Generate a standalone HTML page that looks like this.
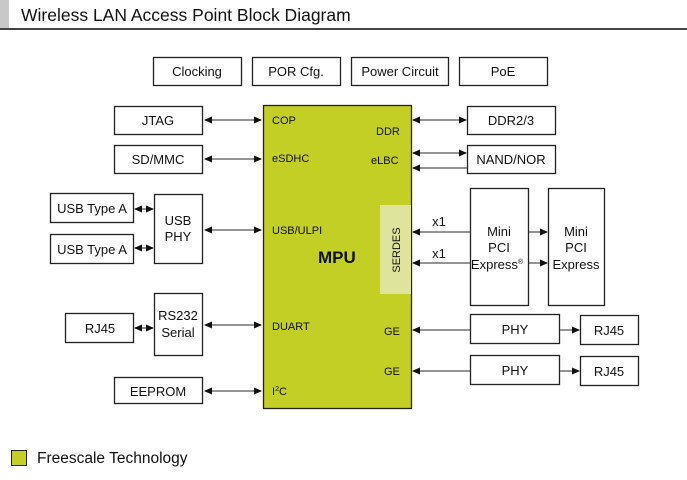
<!DOCTYPE html>
<html><head><meta charset="utf-8"><style>
body{margin:0;background:#fff;}
svg{display:block;font-family:"Liberation Sans",sans-serif;}
</style></head><body>
<svg width="687" height="480" viewBox="0 0 687 480" xmlns="http://www.w3.org/2000/svg">
<defs>
<marker id="a" markerWidth="8" markerHeight="8" refX="7" refY="4" orient="auto-start-reverse" markerUnits="userSpaceOnUse"><path d="M0,0.5 L8,4 L0,7.5z" fill="#111"/></marker>
</defs>
<rect x="0" y="0" width="9" height="30" fill="#c8c8c8"/>
<text x="21" y="21" font-size="17.5" fill="#111">Wireless LAN Access Point Block Diagram</text>
<rect x="0" y="28" width="687" height="2" fill="#444"/>
<g fill="#fff" stroke="#222" stroke-width="1.3">
<rect x="153.5" y="57.5" width="88" height="28"/>
<rect x="252.5" y="57.5" width="88" height="28"/>
<rect x="351.5" y="57.5" width="97" height="28"/>
<rect x="459.5" y="57.5" width="88" height="28"/>
<rect x="114.5" y="106.5" width="88" height="28"/>
<rect x="114.5" y="145.5" width="88" height="28"/>
<rect x="50.5" y="193.5" width="83" height="29"/>
<rect x="50.5" y="234.5" width="83" height="29"/>
<rect x="154.5" y="194.5" width="48" height="69"/>
<rect x="65.5" y="313.5" width="68" height="29"/>
<rect x="154.5" y="293.5" width="48" height="62"/>
<rect x="114.5" y="377.5" width="88" height="26"/>
<rect x="467.5" y="106.5" width="88" height="28"/>
<rect x="467.5" y="145.5" width="88" height="28"/>
<rect x="470.5" y="188.5" width="58" height="117"/>
<rect x="548.5" y="188.5" width="56" height="117"/>
<rect x="470.5" y="314.5" width="89" height="29"/>
<rect x="470.5" y="355.5" width="89" height="29"/>
<rect x="580.5" y="315.5" width="58" height="29"/>
<rect x="580.5" y="356.5" width="58" height="29"/>
<rect x="263.5" y="105.5" width="148" height="303" fill="#c3cf25"/>
</g>
<rect x="380" y="205" width="31" height="89" fill="#dfe49c"/>
<g stroke="#555" stroke-width="1.2" marker-start="url(#a)" marker-end="url(#a)">
<line x1="205" y1="120" x2="261" y2="120"/>
<line x1="205" y1="159" x2="261" y2="159"/>
<line x1="135" y1="209" x2="153" y2="209"/>
<line x1="135" y1="248" x2="153" y2="248"/>
<line x1="205" y1="230" x2="261" y2="230"/>
<line x1="135" y1="328" x2="153" y2="328"/>
<line x1="205" y1="325" x2="261" y2="325"/>
<line x1="205" y1="391" x2="261" y2="391"/>
<line x1="413" y1="120" x2="466" y2="120"/>
<line x1="413" y1="153" x2="466" y2="153"/>
</g>
<g stroke="#555" stroke-width="1.2" marker-start="url(#a)">
<line x1="413" y1="168" x2="467" y2="168"/>
<line x1="413" y1="232" x2="470" y2="232"/>
<line x1="413" y1="263" x2="470" y2="263"/>
<line x1="413" y1="330" x2="470" y2="330"/>
<line x1="413" y1="371" x2="470" y2="371"/>
</g>
<g stroke="#555" stroke-width="1.2" marker-end="url(#a)">
<line x1="529" y1="232" x2="547" y2="232"/>
<line x1="529" y1="263" x2="547" y2="263"/>
<line x1="560" y1="330" x2="579" y2="330"/>
<line x1="560" y1="371" x2="579" y2="371"/>
</g>
<g font-size="13" fill="#111" text-anchor="middle">
<text x="197" y="76">Clocking</text>
<text x="296" y="76">POR Cfg.</text>
<text x="400" y="76">Power Circuit</text>
<text x="503" y="76">PoE</text>
<text x="158" y="125">JTAG</text>
<text x="158" y="164">SD/MMC</text>
<text x="92" y="213">USB Type A</text>
<text x="92" y="254">USB Type A</text>
<text x="178" y="225">USB</text>
<text x="178" y="241">PHY</text>
<text x="100" y="333">RJ45</text>
<text x="178" y="320">RS232</text>
<text x="178" y="337">Serial</text>
<text x="158" y="396">EEPROM</text>
<text x="511" y="125">DDR2/3</text>
<text x="511" y="164">NAND/NOR</text>
<text x="499" y="236">Mini</text>
<text x="499" y="252">PCI</text>
<text x="497" y="269">Express<tspan font-size="7" dy="-5">®</tspan></text>
<text x="576" y="236">Mini</text>
<text x="576" y="252">PCI</text>
<text x="576" y="269">Express</text>
<text x="515" y="334">PHY</text>
<text x="515" y="375">PHY</text>
<text x="609" y="335">RJ45</text>
<text x="609" y="376">RJ45</text>
<text x="439" y="226">x1</text>
<text x="439" y="258">x1</text>
</g>
<g font-size="11" fill="#111">
<text x="272" y="124">COP</text>
<text x="272" y="162">eSDHC</text>
<text x="272" y="234">USB/ULPI</text>
<text x="272" y="330">DUART</text>
<text x="272" y="395">I<tspan font-size="7" dy="-4">2</tspan><tspan dy="4">C</tspan></text>
<text x="376" y="135">DDR</text>
<text x="371" y="164">eLBC</text>
<text x="384" y="335">GE</text>
<text x="384" y="375">GE</text>
<text x="400" y="250" transform="rotate(-90 400 250)" text-anchor="middle">SERDES</text>
</g>
<text x="318" y="263" font-size="17" font-weight="bold" fill="#111">MPU</text>
<rect x="11.5" y="450.5" width="15" height="15" fill="#c3cf25" stroke="#222"/>
<text x="37" y="463" font-size="15.5" fill="#111">Freescale Technology</text>
</svg>
</body></html>
